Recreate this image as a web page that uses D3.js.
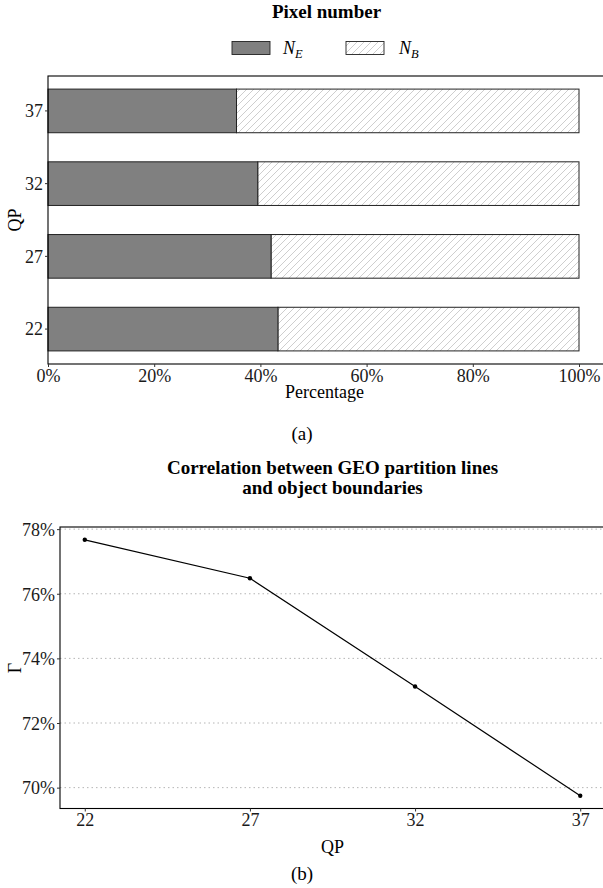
<!DOCTYPE html>
<html>
<head>
<meta charset="utf-8">
<script src="https://cdn.jsdelivr.net/npm/d3@7"></script>
<style>
  html, body { margin: 0; padding: 0; background: #fff; }
  svg { display: block; font-family: "Liberation Serif", "DejaVu Serif", serif; }
</style>
</head>
<body>
<svg id="chart" width="603" height="888"></svg>
<script>
// QP levels shared by both panels
const qpLevels = ["22", "27", "32", "37"];
// (a) share of edge pixels N_E per QP (rest is N_B)
const edgeShare = [0.433, 0.420, 0.395, 0.355];
// (b) correlation Γ (%) per QP
const gammaValues = [77.67, 76.48, 73.13, 69.75];
const pctTicks = [0, 0.2, 0.4, 0.6, 0.8, 1.0];
const gammaTicks = [70, 72, 74, 76, 78];
const qpTicks = [22, 27, 32, 37];

const svg = d3.select("#chart");
const defs = svg.append("defs");

// diagonal hatch for N_B
const pat = defs.append("pattern")
  .attr("id", "hatch")
  .attr("patternUnits", "userSpaceOnUse")
  .attr("width", 7).attr("height", 7);
pat.append("rect").attr("width", 7).attr("height", 7).attr("fill", "#fff");
pat.append("path")
  .attr("d", "M0,7 L7,0 M-1.75,1.75 L1.75,-1.75 M5.25,8.75 L8.75,5.25")
  .attr("stroke", "#c2c2c2").attr("stroke-width", 0.8).attr("fill", "none");

const fontSize = 18;
const serif = "Liberation Serif, serif";

// ---------- (a) stacked percentage bars ----------
const a = { left: 48, right: 605, top: 76, bottom: 364 };
const x = d3.scaleLinear().domain([0, 1]).range([a.left, 579]);
const y = d3.scaleBand().domain(qpLevels).range([a.bottom, a.top])
  .paddingInner(0.4).paddingOuter(0.18);

svg.append("text").attr("x", (a.left + a.right) / 2).attr("y", 18)
  .attr("text-anchor", "middle").attr("font-weight", "bold")
  .attr("font-size", 19).text("Pixel number");

// legend
const legend = svg.append("g");
legend.append("rect").attr("x", 232).attr("y", 41.5).attr("width", 38).attr("height", 13)
  .attr("fill", "#808080").attr("stroke", "#222").attr("stroke-width", 0.9);
const le = legend.append("text").attr("x", 283).attr("y", 54).attr("font-size", fontSize)
  .attr("font-style", "italic");
le.append("tspan").text("N");
le.append("tspan").attr("font-size", 12.5).attr("dy", 4).text("E");
legend.append("rect").attr("x", 346).attr("y", 41.5).attr("width", 38).attr("height", 13)
  .attr("fill", "url(#hatch)").attr("stroke", "#222").attr("stroke-width", 0.9);
const lb = legend.append("text").attr("x", 399).attr("y", 54).attr("font-size", fontSize)
  .attr("font-style", "italic");
lb.append("tspan").text("N");
lb.append("tspan").attr("font-size", 12.5).attr("dy", 4).text("B");

const barData = qpLevels.map((q, i) => ({ qp: q, e: edgeShare[i] }));
const bars = svg.append("g");
bars.selectAll("rect.nb").data(barData).join("rect").attr("class", "nb")
  .attr("x", d => x(d.e)).attr("width", d => x(1) - x(d.e))
  .attr("y", d => y(d.qp)).attr("height", y.bandwidth())
  .attr("fill", "url(#hatch)").attr("stroke", "#222").attr("stroke-width", 1);
bars.selectAll("rect.ne").data(barData).join("rect").attr("class", "ne")
  .attr("x", x(0)).attr("width", d => x(d.e) - x(0))
  .attr("y", d => y(d.qp)).attr("height", y.bandwidth())
  .attr("fill", "#808080").attr("stroke", "#222").attr("stroke-width", 1);

// frame
svg.append("rect").attr("x", a.left).attr("y", a.top)
  .attr("width", a.right - a.left).attr("height", a.bottom - a.top)
  .attr("fill", "none").attr("stroke", "#000").attr("stroke-width", 1.1);

const xAxisA = svg.append("g").attr("transform", `translate(0,${a.bottom})`)
  .call(d3.axisBottom(x).tickValues(pctTicks).tickFormat(d3.format(".0%")).tickSize(3).tickPadding(2));
const yAxisA = svg.append("g").attr("transform", `translate(${a.left},0)`)
  .call(d3.axisLeft(y).tickSize(3).tickPadding(2));
[xAxisA, yAxisA].forEach(g => {
  g.select(".domain").remove();
  g.selectAll("text").attr("font-size", fontSize).attr("fill", "#1a1a1a")
    .attr("font-family", serif);
  g.selectAll("line").attr("stroke", "#333");
});
xAxisA.selectAll("text").attr("dy", "0.72em");
yAxisA.selectAll("text").attr("dy", "0.35em");

svg.append("text").attr("x", (a.left + a.right) / 2 - 2).attr("y", 398).attr("text-anchor", "middle")
  .attr("font-size", fontSize).text("Percentage");
svg.append("text").attr("transform", "translate(21,220) rotate(-90)")
  .attr("text-anchor", "middle").attr("font-size", fontSize).text("QP");
svg.append("text").attr("x", 302).attr("y", 440).attr("text-anchor", "middle")
  .attr("font-size", 19).text("(a)");

// ---------- (b) correlation line ----------
const b = { left: 60, right: 605, top: 527, bottom: 808.5 };
const xb = d3.scaleLinear().domain([21.25, 37.75]).range([b.left, b.right]);
const yb = d3.scaleLinear().domain([69.354, 78.066]).range([b.bottom, b.top]);

svg.append("text").attr("x", (b.left + b.right) / 2).attr("y", 474).attr("text-anchor", "middle")
  .attr("font-weight", "bold").attr("font-size", 19)
  .text("Correlation between GEO partition lines");
svg.append("text").attr("x", (b.left + b.right) / 2).attr("y", 494).attr("text-anchor", "middle")
  .attr("font-weight", "bold").attr("font-size", 19)
  .text("and object boundaries");

// dotted horizontal grid
svg.append("g").selectAll("line").data(gammaTicks).join("line")
  .attr("x1", b.left).attr("x2", b.right)
  .attr("y1", d => yb(d)).attr("y2", d => yb(d))
  .attr("stroke", "#b5b5b5").attr("stroke-width", 1).attr("stroke-dasharray", "1.5,3");

const pts = qpTicks.map((q, i) => ({ q, v: gammaValues[i] }));
svg.append("path").datum(pts)
  .attr("d", d3.line().x(d => xb(d.q)).y(d => yb(d.v)))
  .attr("fill", "none").attr("stroke", "#000").attr("stroke-width", 1.2);
svg.append("g").selectAll("circle").data(pts).join("circle")
  .attr("cx", d => xb(d.q)).attr("cy", d => yb(d.v)).attr("r", 2.2).attr("fill", "#000");

svg.append("rect").attr("x", b.left).attr("y", b.top)
  .attr("width", b.right - b.left).attr("height", b.bottom - b.top)
  .attr("fill", "none").attr("stroke", "#000").attr("stroke-width", 1.1);

const xAxisB = svg.append("g").attr("transform", `translate(0,${b.bottom})`)
  .call(d3.axisBottom(xb).tickValues(qpTicks).tickFormat(d3.format("d")).tickSize(3).tickPadding(2));
const yAxisB = svg.append("g").attr("transform", `translate(${b.left},0)`)
  .call(d3.axisLeft(yb).tickValues(gammaTicks).tickFormat(d => d + "%").tickSize(3).tickPadding(2));
[xAxisB, yAxisB].forEach(g => {
  g.select(".domain").remove();
  g.selectAll("text").attr("font-size", fontSize).attr("fill", "#1a1a1a")
    .attr("font-family", serif);
  g.selectAll("line").attr("stroke", "#333");
});
xAxisB.selectAll("text").attr("dy", "0.72em");
yAxisB.selectAll("text").attr("dy", "0.35em");

svg.append("text").attr("x", (b.left + b.right) / 2).attr("y", 853).attr("text-anchor", "middle")
  .attr("font-size", fontSize).text("QP");
svg.append("text").attr("transform", "translate(21,668) rotate(-90)")
  .attr("text-anchor", "middle").attr("font-size", fontSize).text("Γ");
svg.append("text").attr("x", 302).attr("y", 880).attr("text-anchor", "middle")
  .attr("font-size", 19).text("(b)");
</script>
</body>
</html>
